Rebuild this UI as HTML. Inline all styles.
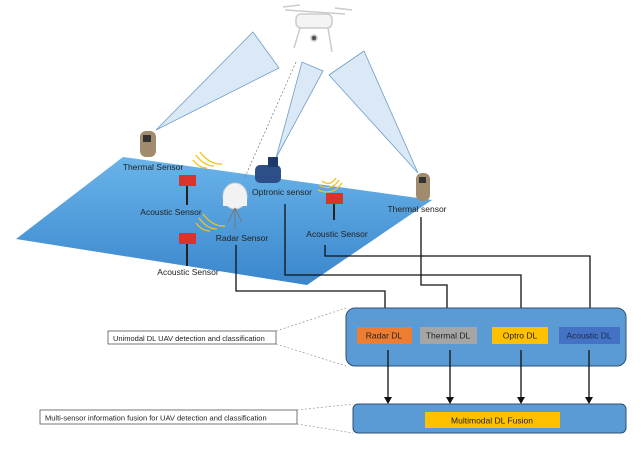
<!DOCTYPE html>
<html><head><meta charset="utf-8"><style>
html,body{margin:0;padding:0;background:#fff;}
svg{display:block;font-family:"Liberation Sans",sans-serif;}
</style></head><body>
<svg width="642" height="451" viewBox="0 0 642 451" xmlns="http://www.w3.org/2000/svg">
<defs>
<linearGradient id="pl" x1="0" y1="0" x2="0" y2="1">
<stop offset="0" stop-color="#69b4ea"/><stop offset="1" stop-color="#3a86cc"/></linearGradient>
<marker id="ar" markerWidth="8" markerHeight="8" refX="6" refY="4" orient="auto" markerUnits="userSpaceOnUse">
<path d="M0,0 L7,4 L0,8 z" fill="#111"/></marker>
</defs>
<!-- plane -->
<polygon points="16,239 123,157 432,200 307,285" fill="url(#pl)"/>
<!-- cones -->
<polygon points="156,130 253,32 279,68" fill="#dbe9f6" stroke="#6d9cc8" stroke-width="0.8"/>
<polygon points="276,158 302,62 323,71" fill="#dbe9f6" stroke="#6d9cc8" stroke-width="0.8"/>
<polygon points="418,173 364,51 329,75" fill="#dbe9f6" stroke="#6d9cc8" stroke-width="0.8"/>
<line x1="296" y1="62" x2="245" y2="177" stroke="#777" stroke-width="0.7" stroke-dasharray="2,2"/>
<!-- drone -->
<g stroke="#ccc" stroke-width="1.5" fill="#f4f4f4">
<line x1="285" y1="10" x2="345" y2="14"/><line x1="300" y1="22" x2="332" y2="22"/>
<rect x="296" y="14" width="36" height="14" rx="5"/>
<line x1="300" y1="28" x2="294" y2="48"/><line x1="328" y1="28" x2="332" y2="52"/>
<circle cx="314" cy="38" r="3" fill="#555"/>
<line x1="283" y1="7" x2="300" y2="5"/><line x1="335" y1="8" x2="352" y2="10"/>
</g>
<!-- left thermal -->
<rect x="140" y="131" width="16" height="26" rx="6" fill="#a08c6c"/>
<rect x="143" y="135" width="8" height="7" fill="#333"/>
<!-- right thermal -->
<rect x="416" y="173" width="14" height="28" rx="6" fill="#a08c6c"/>
<rect x="419" y="177" width="7" height="6" fill="#333"/>
<!-- optronic -->
<rect x="255" y="165" width="26" height="18" rx="5" fill="#2c4f8a"/>
<rect x="268" y="157" width="10" height="10" fill="#1e3a6a"/>
<!-- radar -->
<ellipse cx="235" cy="196" rx="12" ry="13" fill="#f2f2f2" stroke="#ccc"/>
<rect x="223" y="196" width="24" height="10" fill="#f2f2f2"/>
<g stroke="#777" stroke-width="1"><line x1="235" y1="208" x2="228" y2="222"/><line x1="235" y1="208" x2="242" y2="222"/><line x1="235" y1="208" x2="235" y2="229"/></g>
<!-- acoustic sensors -->
<g fill="#d8342c">
<rect x="179" y="175" width="17" height="11"/><rect x="179" y="233" width="17" height="11"/><rect x="326" y="193" width="17" height="11"/></g>
<g stroke="#222" stroke-width="2">
<line x1="187" y1="186" x2="187" y2="205"/><line x1="187" y1="244" x2="187" y2="266"/><line x1="334" y1="204" x2="334" y2="220"/></g>
<!-- waves -->
<g fill="none" stroke="#f2c21e" stroke-width="1.3">
<path d="M193,160 q6,8 14,8"/><path d="M196,155 q8,11 18,11"/><path d="M200,152 q10,13 22,12"/>
<path d="M196,223 q6,8 14,8"/><path d="M199,218 q8,11 18,11"/><path d="M203,214 q10,13 22,12"/>
<path d="M322,181 q8,6 14,-3"/><path d="M319,185 q12,7 20,-5"/><path d="M318,190 q15,6 24,-7"/>
</g>
<!-- labels -->
<g font-size="8.5" fill="#222" text-anchor="middle">
<text x="153" y="170">Thermal Sensor</text>
<text x="171" y="215">Acoustic Sensor</text>
<text x="242" y="241">Radar Sensor</text>
<text x="282" y="195">Optronic sensor</text>
<text x="188" y="275">Acoustic Sensor</text>
<text x="337" y="237">Acoustic Sensor</text>
<text x="417" y="212">Thermal sensor</text>
</g>
<!-- connectors -->
<g fill="none" stroke="#111" stroke-width="1.3">
<polyline points="236,245 236,291 385,291 385,322" marker-end="url(#ar)"/>
<polyline points="285,204 285,275 521,275 521,322" marker-end="url(#ar)"/>
<polyline points="421,217 421,285 447,285 447,322" marker-end="url(#ar)"/>
<polyline points="325,245 325,256 590,256 590,322" marker-end="url(#ar)"/>
</g>
<!-- top box -->
<rect x="346" y="308" width="280" height="58" rx="9" fill="#5b9bd5" stroke="#2f4f6f" stroke-width="1"/>
<rect x="357" y="327" width="55" height="17" fill="#ed7d31"/>
<rect x="420" y="327" width="57" height="17" fill="#a5a5a5"/>
<rect x="492" y="327" width="56" height="17" fill="#ffc000"/>
<rect x="559" y="327" width="61" height="17" fill="#4472c4"/>
<g font-size="8.5" text-anchor="middle" fill="#222">
<text x="384" y="338.5">Radar DL</text><text x="448" y="338.5">Thermal DL</text>
<text x="520" y="338.5">Optro DL</text><text x="589" y="338.5" fill="#1a2a4a">Acoustic DL</text></g>
<!-- lower arrows -->
<g stroke="#111" stroke-width="1.3">
<line x1="388" y1="350" x2="388" y2="403" marker-end="url(#ar)"/>
<line x1="450" y1="350" x2="450" y2="403" marker-end="url(#ar)"/>
<line x1="521" y1="350" x2="521" y2="403" marker-end="url(#ar)"/>
<line x1="589" y1="350" x2="589" y2="403" marker-end="url(#ar)"/>
</g>
<!-- bottom box -->
<rect x="353" y="404" width="273" height="29" rx="5" fill="#5b9bd5" stroke="#2f4f6f" stroke-width="1"/>
<rect x="425" y="412" width="135" height="16" fill="#ffc000"/>
<text x="492" y="423.5" font-size="8.5" text-anchor="middle" fill="#222">Multimodal DL Fusion</text>
<!-- side labels -->
<rect x="108" y="331" width="168" height="13" fill="#fff" stroke="#555" stroke-width="0.8"/>
<text x="113" y="341" font-size="7.5" fill="#222">Unimodal DL UAV detection and classification</text>
<rect x="40" y="410" width="257" height="14" fill="#fff" stroke="#555" stroke-width="0.8"/>
<text x="45" y="420.5" font-size="7.5" fill="#222">Multi-sensor information fusion for UAV detection and classification</text>
<g stroke="#999" stroke-width="0.7" stroke-dasharray="2,2">
<line x1="276" y1="331" x2="346" y2="308"/><line x1="276" y1="344" x2="346" y2="366"/>
<line x1="297" y1="410" x2="353" y2="404"/><line x1="297" y1="424" x2="353" y2="433"/>
</g>
</svg>
</body></html>
